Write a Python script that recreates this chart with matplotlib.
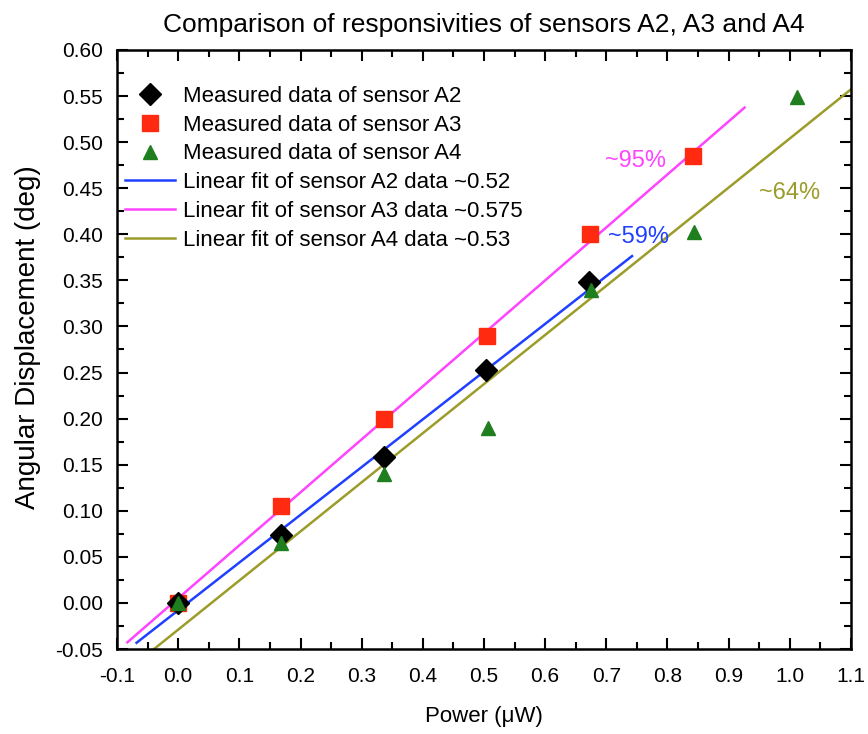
import matplotlib.pyplot as plt
from matplotlib.ticker import MultipleLocator
import numpy as np

plt.rcParams['font.family'] = ['Liberation Sans', 'DejaVu Sans']

# measured data
power_a2 = [0.0, 0.168, 0.336, 0.504, 0.672]
disp_a2 = [0.0, 0.074, 0.158, 0.253, 0.348]

power_a3 = [0.0, 0.168, 0.336, 0.505, 0.673, 0.842]
disp_a3 = [0.0, 0.105, 0.200, 0.290, 0.400, 0.485]

power_a4 = [0.0, 0.168, 0.337, 0.506, 0.675, 0.843, 1.012]
disp_a4 = [0.0, 0.065, 0.140, 0.190, 0.340, 0.402, 0.549]

# linear fits: (x start, x end, slope, intercept)
fit_a2 = (-0.068, 0.742, 0.518, -0.008)
fit_a3 = (-0.083, 0.926, 0.575, 0.005)
fit_a4 = (-0.039, 1.10, 0.533, -0.029)

blue, magenta, olive = '#2040ff', '#ff44ff', '#9c9c2a'

fig = plt.figure(figsize=(8.68, 7.34), dpi=100)
ax = fig.add_axes([0.1348, 0.1158, 0.8456, 0.8161])

ax.plot(power_a2, disp_a2, 'D', color='black', ms=11, ls='none',
        label='Measured data of sensor A2', zorder=4)
ax.plot(power_a3, disp_a3, 's', color='#ff2a10', ms=12, ls='none',
        label='Measured data of sensor A3', zorder=3)
ax.plot(power_a4, disp_a4, '^', color='#1f7f1f', ms=10, ls='none',
        label='Measured data of sensor A4', zorder=5)

for fit, col, lab in [(fit_a2, blue, 'Linear fit of sensor A2 data ~0.52'),
                      (fit_a3, magenta, 'Linear fit of sensor A3 data ~0.575'),
                      (fit_a4, olive, 'Linear fit of sensor A4 data ~0.53')]:
    xs = np.array([fit[0], fit[1]])
    ax.plot(xs, fit[2] * xs + fit[3], color=col, lw=1.8, label=lab, zorder=2)

ax.text(0.747, 0.479, '~95%', color=magenta, fontsize=17, ha='center', va='center')
ax.text(0.753, 0.397, '~59%', color=blue, fontsize=17, ha='center', va='center')
ax.text(1.0, 0.445, '~64%', color=olive, fontsize=17, ha='center', va='center')

ax.set_xlim(-0.1, 1.1)
ax.set_ylim(-0.05, 0.60)
ax.xaxis.set_major_locator(MultipleLocator(0.1))
ax.xaxis.set_minor_locator(MultipleLocator(0.05))
ax.yaxis.set_major_locator(MultipleLocator(0.05))
ax.yaxis.set_minor_locator(MultipleLocator(0.025))
ax.xaxis.set_major_formatter(plt.FormatStrFormatter('%.1f'))
ax.yaxis.set_major_formatter(plt.FormatStrFormatter('%.2f'))
ax.tick_params(which='both', direction='in', top=True, right=True, labelsize=15)
ax.tick_params(which='major', length=8, width=1.5)
ax.tick_params(which='minor', length=5, width=1.5)
ax.tick_params(axis='x', which='major', pad=13)
ax.tick_params(axis='y', which='major', pad=10)
for s in ax.spines.values():
    s.set_linewidth(1.8)

ax.set_xlabel('Power (\u03bcW)', fontsize=16, labelpad=14)
ax.set_ylabel('Angular Displacement (deg)', fontsize=20)
ax.yaxis.set_label_coords(-0.104, 0.52)
ax.set_title('Comparison of responsivities of sensors A2, A3 and A4', fontsize=19, pad=13)

ax.legend(loc='upper left', frameon=False, fontsize=16, handlelength=2.25,
          labelspacing=0.35, borderpad=0, borderaxespad=0, handletextpad=0.36,
          bbox_to_anchor=(0.011, 0.94))

fig.savefig('out.png', dpi=100)
